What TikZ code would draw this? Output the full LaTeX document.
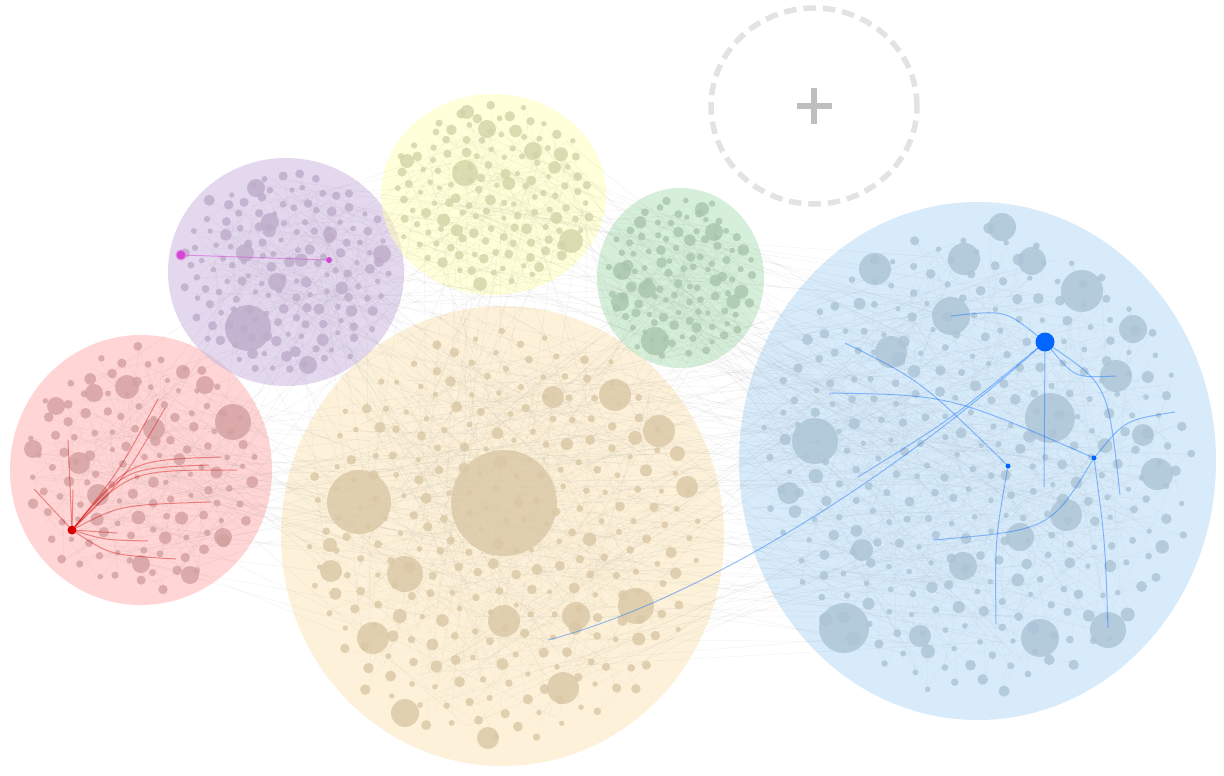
\documentclass[tikz,border=0pt]{standalone}
\begin{document}
\begin{tikzpicture}[x=1pt,y=-1pt]
\useasboundingbox (0,0) rectangle (1224,776);
\definecolor{cRed}{RGB}{255,178,178}
\definecolor{cPur}{RGB}{204,184,224}
\definecolor{cYel}{RGB}{255,255,186}
\definecolor{cGre}{RGB}{180,226,188}
\definecolor{cOra}{RGB}{251,230,186}
\definecolor{cBlu}{RGB}{182,218,246}
\definecolor{dRed}{RGB}{212,160,160}
\definecolor{dPur}{RGB}{190,172,202}
\definecolor{dYel}{RGB}{212,212,168}
\definecolor{dGre}{RGB}{168,198,172}
\definecolor{dOra}{RGB}{218,200,165}
\definecolor{dBlu}{RGB}{172,196,214}
\definecolor{ringgray}{RGB}{227,227,227}
\definecolor{plusgray}{RGB}{190,190,190}
\definecolor{hiRed}{RGB}{215,0,0}
\definecolor{hiPur}{RGB}{210,70,210}
\definecolor{hiBlu}{RGB}{0,102,255}
\tikzset{
  cfill/.style={fill=#1, fill opacity=0.55},
  xedge/.style={draw=gray, draw opacity=0.10, line width=0.5pt},
  redline/.style={draw=hiRed, draw opacity=0.4, line width=1pt},
  purline/.style={draw=hiPur, draw opacity=0.5, line width=1pt},
  bluline/.style={draw=hiBlu, draw opacity=0.4, line width=1pt},
}
\newcommand\clusterdots[8]{%
  \pgfmathsetseed{#8}%
  \foreach \i in {1,...,#5}{%
     \pgfmathsetmacro\j{int(random(1,#5))}%
     \pgfmathsetmacro\ri{0.9*sqrt((\i-0.5)/#5)}%
     \pgfmathsetmacro\ti{360*(\i*0.381966-floor(\i*0.381966))}%
     \pgfmathsetmacro\rj{0.9*sqrt((\j-0.5)/#5)}%
     \pgfmathsetmacro\tj{360*(\j*0.381966-floor(\j*0.381966))}%
     \draw[draw=#7, draw opacity=0.18, line width=0.4pt] ({#1+#3*\ri*cos(\ti)},{#2+#4*\ri*sin(\ti)}) -- ({#1+#3*\rj*cos(\tj)},{#2+#4*\rj*sin(\tj)});
  }%
  \foreach \i in {1,...,#5}{%
     \pgfmathsetmacro\ri{0.9*sqrt((\i-0.5)/#5)}%
     \pgfmathsetmacro\ti{360*(\i*0.381966-floor(\i*0.381966))}%
     \pgfmathsetmacro\dr{2.6+5*rnd*rnd}%
     \fill[fill=#6, fill opacity=0.8] ({#1+#3*\ri*cos(\ti)+2.5*sin(\i*37.3)},{#2+#4*\ri*sin(\ti)+2.5*cos(\i*41.7)}) circle (\dr pt);
  }%
}
% cluster backgrounds
\fill[cfill=cRed] (141,470) ellipse [x radius=131pt, y radius=135pt];
\fill[cfill=cOra] (502.5,536) ellipse [x radius=221.5pt, y radius=230pt];
\fill[cfill=cPur] (286,272) ellipse [x radius=118pt, y radius=114pt];
\fill[cfill=cYel] (493.5,194.5) ellipse [x radius=112.5pt, y radius=100.5pt];
\fill[cfill=cGre] (680.5,278) ellipse [x radius=83.5pt, y radius=90pt];
\fill[cfill=cBlu] (977.5,461) ellipse [x radius=238.5pt, y radius=259pt];
% faint edges between clusters
\def\CX{{141,286,493,680,502,977}}
\def\CY{{470,272,194,278,536,461}}
\def\RX{{131,118,112,83,221,238}}
\def\RY{{135,114,100,90,230,259}}
\pgfmathsetseed{11}
\foreach \a/\b/\n in {4/5/90,0/4/45,1/4/35,2/4/30,3/5/30,2/5/22,3/4/22,1/2/12,0/1/12,2/3/12,1/5/18,0/5/18,0/2/8,1/3/8}{
  \foreach \k in {1,...,\n}{
    \pgfmathsetmacro\ta{360*rnd}\pgfmathsetmacro\sa{0.85*sqrt(rnd)}
    \pgfmathsetmacro\tb{360*rnd}\pgfmathsetmacro\sb{0.85*sqrt(rnd)}
    \pgfmathsetmacro\xa{\CX[\a]+\RX[\a]*\sa*cos(\ta)}
    \pgfmathsetmacro\ya{\CY[\a]+\RY[\a]*\sa*sin(\ta)}
    \pgfmathsetmacro\xb{\CX[\b]+\RX[\b]*\sb*cos(\tb)}
    \pgfmathsetmacro\yb{\CY[\b]+\RY[\b]*\sb*sin(\tb)}
    \draw[xedge] (\xa,\ya) -- (\xb,\yb);
  }
}
% dots of every cluster
\clusterdots{141}{470}{131}{135}{125}{dRed}{dRed}{3}
\clusterdots{286}{272}{118}{114}{150}{dPur}{dPur}{5}
\clusterdots{493.5}{194.5}{112.5}{100.5}{135}{dYel}{dYel}{7}
\clusterdots{680.5}{278}{83.5}{90}{105}{dGre}{dGre}{9}
\clusterdots{502.5}{536}{221.5}{230}{270}{dOra}{dOra}{13}
\clusterdots{977.5}{461}{238.5}{259}{330}{dBlu}{dBlu}{17}
% larger dots
\foreach \x/\y/\r in {233/422/18,127/387/12,94/393/9,79/463/11,98/495/11,154/429/11,141/564/9,190/575/9,223/537/9,56/406/9,33/449/9,205/385/9,183/372/7}
  \fill[fill=dRed, fill opacity=0.8] (\x,\y) circle (\r pt);
\foreach \x/\y/\r in {248/328/23,382/254/9,256/188/9,270/222/9,277/282/9,308/365/9,245/253/9,330/234/7}
  \fill[fill=dPur, fill opacity=0.8] (\x,\y) circle (\r pt);
\foreach \x/\y/\r in {465/173/13,571/241/12,487/129/9,533/151/9,467/112/7,407/161/7}
  \fill[fill=dYel, fill opacity=0.8] (\x,\y) circle (\r pt);
\foreach \x/\y/\r in {655/341/14,622/271/9,647/289/9,714/232/9,620/302/9,702/209/7}
  \fill[fill=dGre, fill opacity=0.8] (\x,\y) circle (\r pt);
\foreach \x/\y/\r in {504/503/53,359/502/32,405/574/18,636/606/18,563/688/16,659/431/16,615/395/16,373/638/16,504/621/16,576/616/14,405/713/14,488/738/11,331/571/11,687/487/11,330/545/7,553/397/11}
  \fill[fill=dOra, fill opacity=0.8] (\x,\y) circle (\r pt);
\foreach \x/\y/\r in {1050/418/25,815/441/23,844/628/25,1082/291/21,1040/638/19,1108/630/18,951/316/19,1066/515/16,891/352/16,875/269/16,964/259/16,1002/227/14,1157/474/16,1133/329/14,1116/376/16,963/566/14,1020/537/14,1032/261/14,789/493/11,862/550/11,920/636/11,1143/435/11}
  \fill[fill=dBlu, fill opacity=0.8] (\x,\y) circle (\r pt);
% red highlight
\node[circle, fill=hiRed, inner sep=0pt, minimum size=9pt] (rh) at (72,530) {};
\foreach \n/\x/\y in {r1/34/489,r2/68/440,r3/73/490,r4/158/399,r5/165/408,r6/221/457,r7/209/465,r8/237/470,r9/210/502,r10/148/541,r11/176/559,r12/117/533}
  \coordinate (\n) at (\x,\y);
\draw[redline] (rh) -- (r1);
\draw[redline] (rh) -- (r2);
\draw[redline] (rh) -- (r3);
\draw[redline] (rh) .. controls (120,470) .. (r4);
\draw[redline] (rh) .. controls (125,478) .. (r5);
\draw[redline] (rh) .. controls (130,460) .. (r6);
\draw[redline] (rh) .. controls (125,468) .. (r7);
\draw[redline] (rh) .. controls (130,470) .. (r8);
\draw[redline] (rh) .. controls (120,505) .. (r9);
\draw[redline] (rh) .. controls (105,540) .. (r10);
\draw[redline] (rh) .. controls (110,555) .. (r11);
\draw[redline] (rh) -- (r12);
% purple highlight
\node[circle, fill=hiPur, inner sep=0pt, minimum size=6pt] (x2) at (329,260) {};
\node[circle, fill=hiPur, draw=hiPur!60, line width=1pt, inner sep=0pt, minimum size=10pt] (ph) at (181,255) {};
\draw[purline] (ph) -- (x2);
% blue highlight
\node[circle, fill=hiBlu, inner sep=0pt, minimum size=5pt] (ba) at (1008,466) {};
\node[circle, fill=hiBlu, inner sep=0pt, minimum size=5pt] (bb) at (1094,458) {};
\foreach \n/\x/\y in {b1/951/316,b2/1116/376,b3/1120/495,b4/1044/487,b5/548/640,b6/858/477,b7/845/343,b8/829/393,b9/996/624,b10/1108/628,b11/933/540,b12/1175/412}
  \coordinate (\n) at (\x,\y);
\node[circle, fill=hiBlu, inner sep=0pt, minimum size=19pt] (bh) at (1045,342) {};
\draw[bluline] (bh) .. controls (1005,310) .. (b1);
\draw[bluline] (bh) .. controls (1075,378) .. (b2);
\draw[bluline] (bh) .. controls (1108,385) .. (b3);
\draw[bluline] (bh) -- (b4);
\draw[bluline] (bh) .. controls (890,480) and (700,600) .. (b5);
\draw[bluline] (bh) .. controls (950,420) .. (b6);
\draw[bluline] (b7) .. controls (920,380) .. (ba);
\draw[bluline] (b8) .. controls (950,395) .. (bb);
\draw[bluline] (ba) .. controls (995,540) .. (b9);
\draw[bluline] (bb) .. controls (1105,540) .. (b10);
\draw[bluline] (bb) .. controls (1050,530) .. (b11);
\draw[bluline] (bb) .. controls (1125,420) .. (b12);
% add-cluster placeholder
\draw[draw=ringgray, line width=5.5pt, dash pattern=on 12.5pt off 7pt] (814,106) ellipse [x radius=103pt, y radius=98pt];
\fill[plusgray] (796.5,103) rectangle (832,109);
\fill[plusgray] (811,88.5) rectangle (817,124);
\coordinate (plus) at (814,106);
\end{tikzpicture}
\end{document}
